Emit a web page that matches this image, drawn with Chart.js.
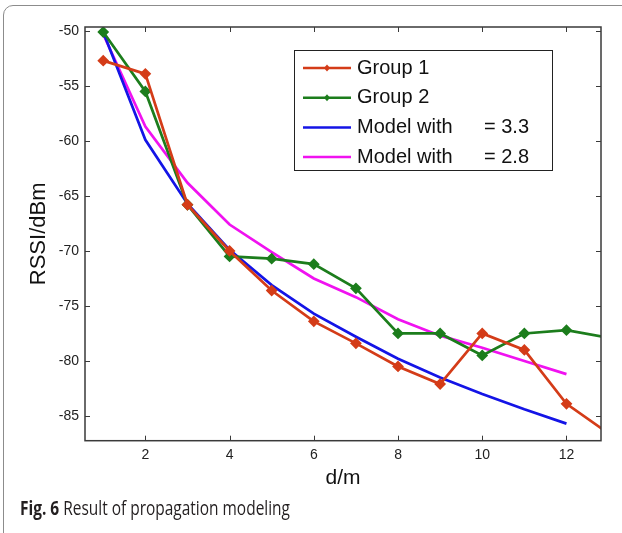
<!DOCTYPE html>
<html>
<head>
<meta charset="utf-8">
<script src="https://cdn.jsdelivr.net/npm/chart.js@4.4.1/dist/chart.umd.min.js"></script>
<style>
  html, body { margin: 0; padding: 0; background: #fff; overflow: hidden; }
  #wrap { position: relative; width: 622px; height: 533px; overflow: hidden; }
  #frame { position: absolute; left: 3px; top: 5px; width: 680px; height: 600px;
    border: 1.5px solid #8c8c8c; border-radius: 10px; box-sizing: border-box; }
  #myChart { position: absolute; left: 0; top: 0; }
  #caption { position: absolute; left: 20px; top: 498px; font-family: "Open Sans", sans-serif;
    font-size: 20px; line-height: 20px; color: #231f20; white-space: nowrap; transform-origin: 0 0; }
</style>
</head>
<body>
<div id="wrap">
  <div id="frame"></div>
  <canvas id="myChart" width="622" height="533"></canvas>
  <div id="caption"><b>Fig. 6</b> Result of propagation modeling</div>
</div>
<script>
// distance (m) of the measurements
var distances = [1, 2, 3, 4, 5, 6, 7, 8, 9, 10, 11, 12, 13];
var group1 = [-52.7, -53.9, -65.8, -70.0, -73.6, -76.4, -78.4, -80.5, -82.1, -77.5, -79.0, -83.9, -86.6];
var group2 = [-50.1, -55.5, -65.8, -70.5, -70.7, -71.2, -73.4, -77.5, -77.5, -79.5, -77.5, -77.2, -77.9];
// model curves
var modelDistances = [1, 2, 3, 4, 5, 6, 7, 8, 9, 10, 11, 12];
var model33 = [-50.1, -59.9, -65.7, -69.9, -73.1, -75.7, -77.8, -79.8, -81.5, -83.0, -84.4, -85.7];
var model28 = [-50.3, -58.7, -63.8, -67.6, -70.1, -72.5, -74.2, -76.2, -77.7, -78.8, -80.0, -81.2];
var seriesLabels = ["Group 1", "Group 2", "Model with      = 3.3", "Model with      = 2.8"];
var seriesColors = ["#d43c18", "#1c7d1c", "#1414e6", "#f012f0"];
var xTicks = [2, 4, 6, 8, 10, 12];
var yTicks = [-85, -80, -75, -70, -65, -60, -55, -50];

function pts(xs, ys) {
  return xs.map(function (x, i) { return { x: x, y: ys[i] }; });
}

// MATLAB style box with inward ticks on all sides
var boxPlugin = {
  id: "box",
  afterDatasetsDraw: function (chart) {
    var ctx = chart.ctx, a = chart.chartArea;
    var xs = chart.scales.x, ys = chart.scales.y;
    ctx.save();
    ctx.strokeStyle = "#3a3a3a";
    ctx.lineWidth = 1.5;
    ctx.strokeRect(a.left, a.top, a.right - a.left, a.bottom - a.top);
    ctx.lineWidth = 1;
    ctx.beginPath();
    xTicks.forEach(function (v) {
      var px = Math.round(xs.getPixelForValue(v)) + 0.5;
      ctx.moveTo(px, a.bottom); ctx.lineTo(px, a.bottom - 5);
      ctx.moveTo(px, a.top); ctx.lineTo(px, a.top + 5);
    });
    yTicks.forEach(function (v) {
      var py = Math.round(ys.getPixelForValue(v)) + 0.5;
      ctx.moveTo(a.left, py); ctx.lineTo(a.left + 5, py);
      ctx.moveTo(a.right, py); ctx.lineTo(a.right - 5, py);
    });
    ctx.stroke();
    ctx.restore();
  },
  afterDraw: function (chart) {
    // boxed legend, top right inside plot
    var ctx = chart.ctx;
    var bx = 294, by = 50, bw = 258, bh = 120;
    ctx.save();
    ctx.fillStyle = "#fff";
    ctx.fillRect(bx, by, bw, bh);
    ctx.strokeStyle = "#222";
    ctx.lineWidth = 1;
    ctx.strokeRect(bx + 0.5, by + 0.5, bw, bh);
    ctx.font = "20px 'Liberation Sans', Arial, sans-serif";
    ctx.textBaseline = "middle";
    chart.data.datasets.forEach(function (ds, i) {
      var cy = by + 18 + i * 29.7;
      ctx.strokeStyle = ds.borderColor;
      ctx.lineWidth = 2.5;
      ctx.beginPath();
      ctx.moveTo(bx + 9, cy); ctx.lineTo(bx + 57, cy);
      ctx.stroke();
      if (ds.pointRadius > 0) {
        ctx.fillStyle = ds.borderColor;
        ctx.beginPath();
        ctx.moveTo(bx + 33, cy - 3.5); ctx.lineTo(bx + 36, cy);
        ctx.lineTo(bx + 33, cy + 3.5); ctx.lineTo(bx + 30, cy);
        ctx.closePath(); ctx.fill();
      }
      ctx.fillStyle = "#111";
      var lbl = ds.label;
      var k = lbl.indexOf("=");
      if (k > 0) {
        ctx.fillText(lbl.slice(0, k).trim(), bx + 63, cy);
        ctx.fillText(lbl.slice(k), bx + 190, cy);
      } else {
        ctx.fillText(lbl, bx + 63, cy);
      }
    });
    ctx.restore();
  }
};

window.addEventListener("load", function () {
  var chartdata = document.getElementById("myChart").getContext("2d");
  var tickFont = { family: "'Liberation Sans', Arial, sans-serif", size: 14 };
  var chart = new Chart(chartdata, {
    type: "line",
    data: {
      datasets: [
        { label: seriesLabels[0], data: pts(distances, group1), borderColor: seriesColors[0],
          backgroundColor: seriesColors[0], pointStyle: "rectRot", pointRadius: 4, borderWidth: 2.7 },
        { label: seriesLabels[1], data: pts(distances, group2), borderColor: seriesColors[1],
          backgroundColor: seriesColors[1], pointStyle: "rectRot", pointRadius: 4, borderWidth: 2.7 },
        { label: seriesLabels[2], data: pts(modelDistances, model33), borderColor: seriesColors[2],
          pointRadius: 0, borderWidth: 2.7 },
        { label: seriesLabels[3], data: pts(modelDistances, model28), borderColor: seriesColors[3],
          pointRadius: 0, borderWidth: 2.7 }
      ]
    },
    options: {
      responsive: false,
      animation: false,
      devicePixelRatio: 1,
      layout: { padding: { top: 27, right: 21, left: 0, bottom: 0 } },
      plugins: { legend: { display: false }, tooltip: { enabled: false } },
      scales: {
        x: {
          type: "linear", min: 0.567, max: 12.82,
          afterBuildTicks: function (s) { s.ticks = xTicks.map(function (v) { return { value: v }; }); },
          afterFit: function (s) { s.height = 92.3; },
          grid: { display: false, drawTicks: false },
          border: { display: false },
          ticks: { font: tickFont, color: "#222", padding: 6, maxRotation: 0 },
          title: { display: true, text: "d/m", color: "#111",
            font: { family: "'Liberation Sans', Arial, sans-serif", size: 21 },
            padding: { top: 0, bottom: 42 } }
        },
        y: {
          min: -87.25, max: -49.64,
          afterBuildTicks: function (s) { s.ticks = yTicks.map(function (v) { return { value: v }; }); },
          afterFit: function (s) { s.width = 85; },
          grid: { display: false, drawTicks: false },
          border: { display: false },
          ticks: { font: tickFont, color: "#222", padding: 6 },
          title: { display: true, text: "RSSI/dBm", color: "#111",
            font: { family: "'Liberation Sans', Arial, sans-serif", size: 22 },
            padding: { top: 26, bottom: 0 } }
        }
      }
    },
    plugins: [boxPlugin]
  });

  // squeeze caption to the width it has in the figure
  var cap = document.getElementById("caption");
  var w = cap.getBoundingClientRect().width;
  cap.style.transform = "scaleX(" + (270 / w) + ")";
});
</script>
</body>
</html>
